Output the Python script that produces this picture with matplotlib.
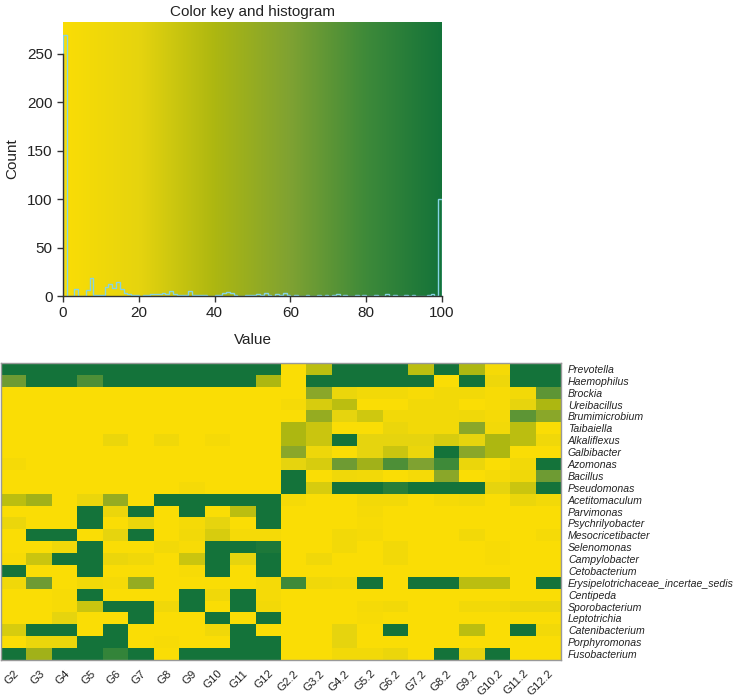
import numpy as np
import matplotlib
matplotlib.use('Agg')
import matplotlib.pyplot as plt
from matplotlib.colors import LinearSegmentedColormap

plt.rcParams['font.family'] = ['Liberation Sans', 'DejaVu Sans']

genera = ['Prevotella', 'Haemophilus', 'Brockia', 'Ureibacillus', 'Brumimicrobium',
          'Taibaiella', 'Alkaliflexus', 'Galbibacter', 'Azomonas', 'Bacillus',
          'Pseudomonas', 'Acetitomaculum', 'Parvimonas', 'Psychrilyobacter',
          'Mesocricetibacter', 'Selenomonas', 'Campylobacter', 'Cetobacterium',
          'Erysipelotrichaceae_incertae_sedis', 'Centipeda', 'Sporobacterium',
          'Leptotrichia', 'Catenibacterium', 'Porphyromonas', 'Fusobacterium']

samples = ['G2', 'G3', 'G4', 'G5', 'G6', 'G7', 'G8', 'G9', 'G10', 'G11', 'G12',
           'G2.2', 'G3.2', 'G4.2', 'G5.2', 'G6.2', 'G7.2', 'G8.2', 'G9.2', 'G10.2',
           'G11.2', 'G12.2']

# relative abundance scaled 0-100, one row per genus
abundance = np.array([
    [100, 100, 100, 100, 100, 100, 100, 100, 100, 100, 100,   0,  35, 100, 100, 100,  35, 100,  40,   5, 100, 100],
    [ 65, 100, 100,  75, 100, 100, 100, 100, 100, 100,  40,   0, 100, 100, 100, 100, 100,   0, 100,  12, 100, 100],
    [  0,   0,   0,   0,   0,   0,   0,   0,   0,   0,   0,   0,  55,  15,   8,   8,   3,   8,   8,   3,   8,  70],
    [  0,   0,   0,   0,   0,   0,   0,   0,   0,   0,   0,   5,  25,  35,   0,   0,   8,   8,   0,   3,  18,  40],
    [  0,   0,   0,   0,   0,   0,   0,   0,   0,   0,   0,   0,  50,  20,  28,   8,   8,   8,  10,   5,  70,  55],
    [  0,   0,   0,   0,   0,   0,   0,   0,   0,   0,   0,  40,  30,   0,   0,  15,   8,   8,  55,   8,  35,   0],
    [  0,   0,   0,   0,  15,   0,  10,   0,   5,   0,   0,  40,  30, 100,  20,  20,  20,  25,  20,  40,  35,  10],
    [  0,   0,   0,   0,   0,   0,   0,   0,   0,   0,   0,  55,  12,   0,  20,  30,  15, 100,  55,  40,   0,   0],
    [  5,   0,   0,   0,   0,   0,   0,   0,   0,   0,   0,  20,  25,  65,  45,  75,  60,  80,  15,   0,   8, 100],
    [  0,   0,   0,   0,   0,   0,   0,   0,   0,   0,   0, 100,   0,  10,   8,   0,   5,  55,   0,   5,  10,  65],
    [  0,   0,   0,   0,   0,   0,   0,   5,   0,   0,   0, 100,  25, 100, 100,  90, 100, 100, 100,  20,  30, 100],
    [ 35,  45,   0,  15,  50,   0, 100, 100, 100, 100, 100,   5,   0,   0,   8,   8,   0,   5,   8,   0,  15,   8],
    [  0,   0,   0, 100,  15, 100,   0, 100,   0,  35, 100,   0,   0,   0,   5,   0,   0,   0,   0,   0,   0,   0],
    [ 15,   0,   0, 100,   0,  15,   0,   5,  20,   0, 100,   0,   0,   0,   3,   0,   0,   0,   0,   0,   0,   0],
    [  0, 100, 100,   0,  20, 100,   0,   8,  25,   5,   5,   0,   0,   8,   5,   0,   0,   0,   8,   0,   0,   5],
    [  0,   0,  10, 100,   0,   0,   8,   3, 100, 100,  95,   0,   0,   8,   0,   8,   0,   0,   0,   3,   0,   0],
    [  3,  30, 100, 100,  15,  10,   0,  30, 100,  20, 100,   0,  10,   0,   0,   8,   0,   0,   0,   3,   0,   0],
    [100,   0,   0, 100,   0,   0,   0,   3, 100,   0, 100,   0,   0,   0,   0,   0,   0,   0,   0,   0,   0,   0],
    [ 10,  65,   0,   8,   5,  50,   0,   0,   0,   0,   5,  80,  10,   8, 100,   0, 100, 100,  35,  35,   0, 100],
    [  0,   0,   3, 100,   0,   0,   0, 100,  10, 100,   5,   0,   0,   0,   0,   0,   0,   0,   0,   0,   0,   0],
    [  0,   0,   3,  30, 100, 100,  10, 100,   0, 100,   8,   0,   0,   0,   5,   8,   0,   0,   8,   8,  15,  15],
    [  0,   0,  20,   0,   0, 100,   0,   0, 100,   0, 100,   0,   0,   0,   3,   0,   0,   0,   0,   0,   0,   0],
    [ 25, 100, 100,   0, 100,   0,   0,   0,  10, 100,   0,   0,   0,  20,   0, 100,   0,   0,  35,   0, 100,   8],
    [  0,  15,  15, 100, 100,   0,   3,   0,   0, 100, 100,   0,   0,  20,   0,   0,   0,   0,   0,   0,   0,   0],
    [100,  45, 100, 100,  85, 100,   0, 100, 100, 100, 100,   0,   0,   8,   8,  15,   0, 100,  20, 100,   0,   0],
])

# histogram of the key, bins of width 1 from 0 to 100
hist_edges = np.arange(0, 101)
hist_counts = [
    270, 0, 0, 7, 0, 0, 6, 19, 1, 1,
    1, 9, 12, 8, 14, 7, 3, 2, 1, 1,
    0, 1, 1, 2, 2, 2, 3, 2, 5, 2,
    1, 1, 1, 5, 1, 1, 1, 1, 0, 0,
    1, 1, 3, 4, 3, 1, 0, 0, 1, 1,
    1, 2, 1, 3, 1, 0, 2, 1, 3, 1,
    0, 1, 0, 0, 1, 0, 0, 1, 0, 1,
    0, 1, 2, 0, 1, 0, 0, 1, 0, 1,
    0, 0, 1, 0, 0, 2, 0, 1, 0, 0,
    1, 0, 1, 0, 0, 0, 1, 2, 0, 100,
]

key_colors = ['#FADD05', '#E6D40E', '#ADB711', '#7FA232', '#3E8A39', '#14733A']
cmap = LinearSegmentedColormap.from_list('key', key_colors)

W, H = 733, 698
fig = plt.figure(figsize=(W / 100, H / 100), dpi=100)

# --- colour key with histogram ---
ax_key = fig.add_axes([63 / W, 1 - 296 / H, 379 / W, 274 / H])
ymax = 283
grad = np.linspace(0, 100, 512).reshape(1, -1)
ax_key.imshow(grad, cmap=cmap, aspect='auto', extent=[0, 100, 0, ymax],
              origin='lower', vmin=0, vmax=100, interpolation='bilinear')
ax_key.stairs(hist_counts, hist_edges, color='#86D4E4', lw=1)
ax_key.set_xlim(0, 100)
ax_key.set_ylim(0, ymax)
ax_key.set_xticks([0, 20, 40, 60, 80, 100])
ax_key.set_yticks([0, 50, 100, 150, 200, 250])
for s in ['top', 'right']:
    ax_key.spines[s].set_visible(False)
ax_key.spines['left'].set_bounds(0, 250)
ax_key.spines['bottom'].set_bounds(0, 100)
for s in ['left', 'bottom']:
    ax_key.spines[s].set_color('#333333')
    ax_key.spines[s].set_linewidth(1)
ax_key.tick_params(labelsize=11, length=4.5, width=1, color='#333333',
                   labelcolor='#222222', pad=3)
ax_key.set_title('Color key and histogram', fontsize=11, pad=4, color='#222222')
ax_key.set_xlabel('Value', fontsize=11, labelpad=9, color='#222222')
ax_key.set_ylabel('Count', fontsize=11, labelpad=6, color='#222222')

# --- heatmap ---
ax = fig.add_axes([1 / W, 38 / H, 560 / W, 297 / H])
ax.imshow(abundance, cmap=cmap, vmin=0, vmax=100, aspect='auto',
          interpolation='nearest')
ax.set_xticks(np.arange(len(samples)))
ax.set_xticklabels(samples, rotation=45, ha='right', va='top',
                   rotation_mode='anchor', fontsize=8.2, color='#222222')
ax.set_yticks(np.arange(len(genera)))
ax.set_yticklabels(genera, fontsize=7.6, style='italic', color='#222222')
ax.yaxis.tick_right()
ax.tick_params(axis='x', length=0, pad=6)
ax.tick_params(axis='y', length=0, pad=5)
for s in ax.spines.values():
    s.set_color('#999999')
    s.set_linewidth(1)

fig.savefig('out.png', dpi=100)
plt.close(fig)
